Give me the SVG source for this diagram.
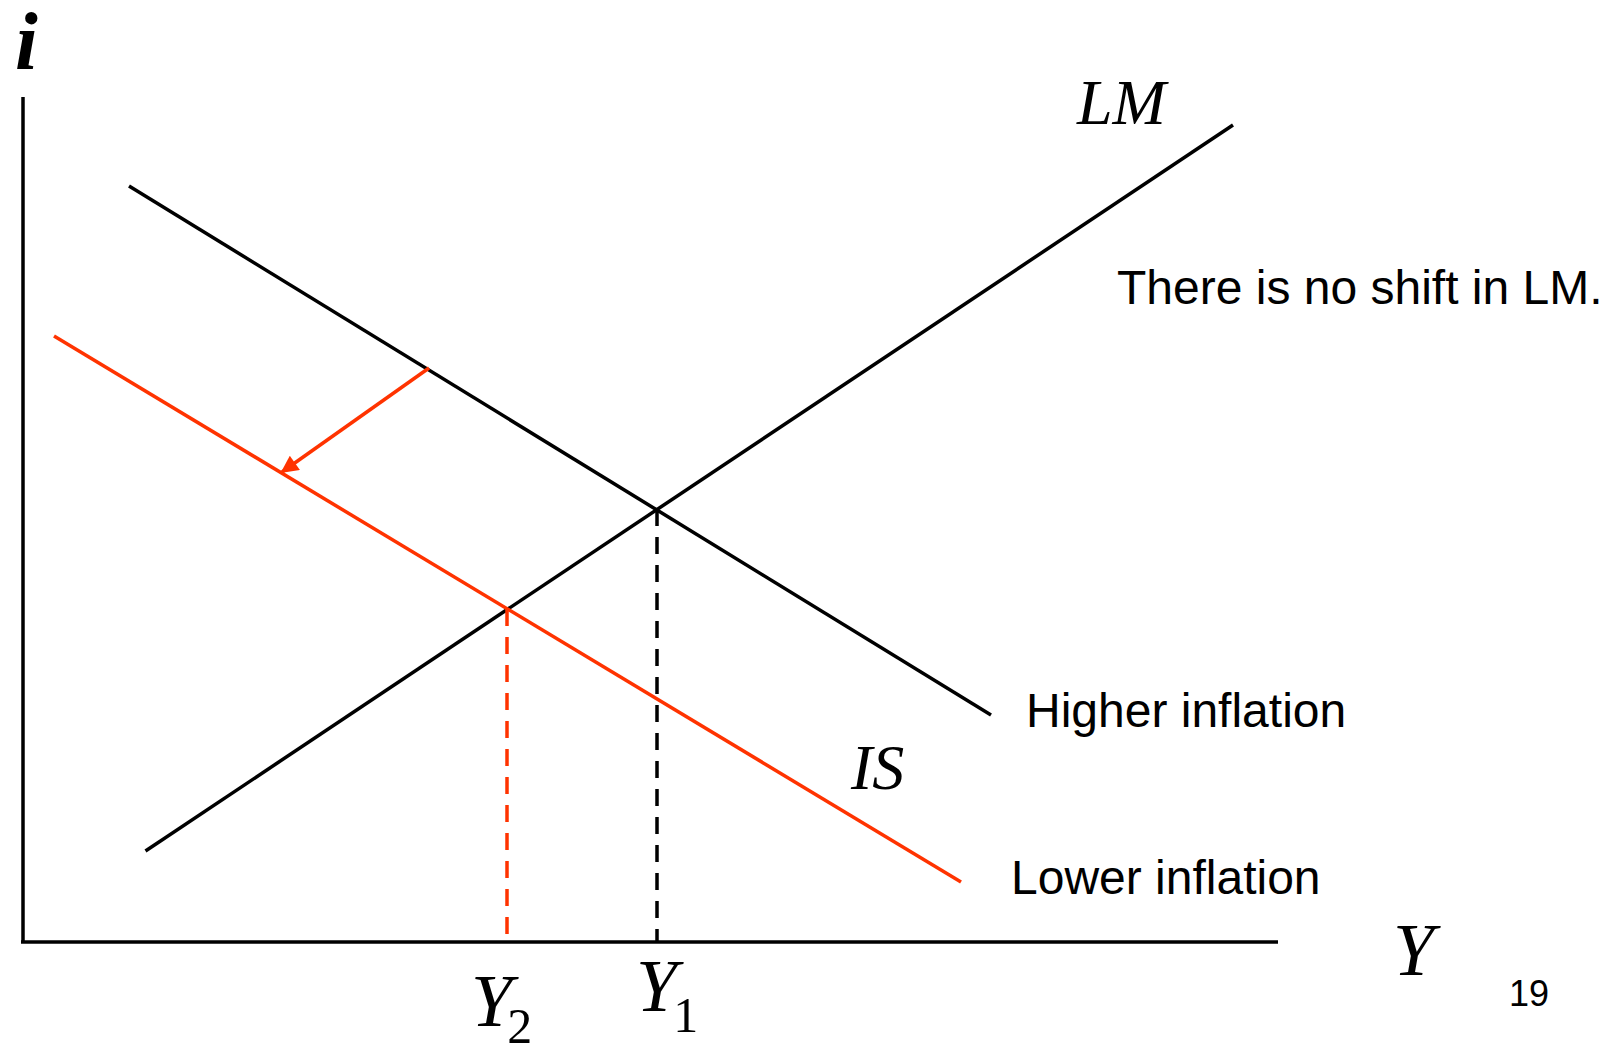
<svg xmlns="http://www.w3.org/2000/svg" width="1618" height="1048" viewBox="0 0 1618 1048">
<style>
.ln{stroke:#000;stroke-width:3.5;fill:none}
.red{stroke:#FF3300;stroke-width:3.5;fill:none}
.dash{stroke-dasharray:17 11}
.ser{font-family:"Liberation Serif","Times New Roman",serif;font-style:italic;fill:#000}
.sub{font-style:normal;font-size:50px}
.sans{font-family:"Liberation Sans",Arial,sans-serif;fill:#000}
</style>
<defs>
<marker id="ah" viewBox="0 0 10 10" refX="9" refY="5" markerWidth="6" markerHeight="5" markerUnits="strokeWidth" orient="auto">
<path d="M0,0 L10,5 L0,10 z" fill="#FF3300"/>
</marker>
</defs>
<rect width="1618" height="1048" fill="#fff"/>
<g id="axes">
<line class="ln" x1="23" y1="97" x2="23" y2="943"/>
<line class="ln" x1="21" y1="942" x2="1278" y2="942"/>
</g>
<g id="connectors">
<line id="LM" class="ln" x1="145.5" y1="851" x2="1233" y2="125"/>
<line id="IS-high" class="ln" x1="129" y1="186" x2="991" y2="715"/>
<line id="IS-low" class="red" x1="54" y1="336" x2="961" y2="882"/>
<line id="drop1" class="ln dash" x1="657" y1="509" x2="657" y2="942"/>
<line id="drop2" class="red dash" x1="507" y1="609" x2="507" y2="942"/>
<line id="shift" class="red" x1="429" y1="368" x2="282" y2="472" marker-end="url(#ah)"/>
</g>
<g id="labels">
<text class="ser" x="15" y="69" font-size="82" font-weight="bold">i</text>
<text class="ser" x="1077" y="124" font-size="64">LM</text>
<text class="sans" x="1117" y="304" font-size="48">There is no shift in LM.</text>
<text class="sans" x="1026" y="727" font-size="48">Higher inflation</text>
<text class="sans" x="1011" y="894" font-size="48">Lower inflation</text>
<text class="ser" x="851" y="789" font-size="64">IS</text>
<text class="ser" x="1393" y="975" font-size="74">Y</text>
<text class="sans" x="1509" y="1006" font-size="36">19</text>
<text class="ser" x="471" y="1026" font-size="74">Y<tspan class="sub" dx="-5" dy="17">2</tspan></text>
<text class="ser" x="636" y="1011" font-size="74">Y<tspan class="sub" dx="-4" dy="21">1</tspan></text>
</g>
</svg>
